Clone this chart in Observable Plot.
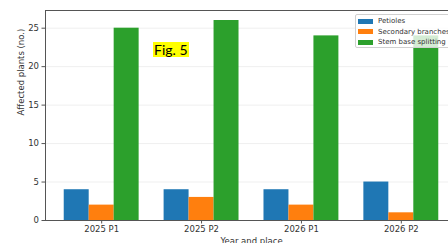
<!DOCTYPE html>
<html>
<head>
<meta charset="utf-8">
<script src="https://cdn.jsdelivr.net/npm/d3@7"></script>
<script src="https://cdn.jsdelivr.net/npm/@observablehq/plot@0.6"></script>
<style>
  html, body { margin: 0; padding: 0; background: #fff; overflow: hidden; }
  #wrap { position: relative; width: 448px; height: 243px; overflow: hidden; font-family: "DejaVu Sans", sans-serif; }
  #wrap svg { max-width: none !important; width: 457px; height: 243px; display: block; }
  #legend { position: absolute; left: 355px; top: 14px; width: 110px; height: 34px; background: rgba(255,255,255,0.8); border: 1px solid #d0d0d0; border-radius: 2px; box-sizing: border-box; padding: 1px 0 0 2px; }
  .row { display: flex; align-items: center; height: 10.6px; font-size: 7px; color: #333; white-space: nowrap; }
  .sw { width: 15px; height: 5px; margin-right: 5px; }
  #fig { position: absolute; left: 153px; top: 42px; background: #ffff00; font-family: Lato, "Open Sans", sans-serif; font-size: 14px; line-height: 15px; padding: 0 1px; color: #000; }
</style>
</head>
<body>
<div id="wrap"></div>
<script>
const groups = ["2025 P1", "2025 P2", "2026 P1", "2026 P2"];
const series = ["Petioles", "Secondary branches", "Stem base splitting"];
const petioles = [4, 4, 4, 5];
const secondary = [2, 3, 2, 1];
const stemBase = [25, 26, 24, 24];
const colors = ["#1f77b4", "#ff7f0e", "#2ca02c"];
const yTicks = [0, 5, 10, 15, 20, 25];
const yLabel = "Affected plants (no.)";
const xLabel = "Year and place";
const figLabel = "Fig. 5";

const valuesBySeries = [petioles, secondary, stemBase];
const data = [];
groups.forEach((g, gi) => {
  series.forEach((s, si) => {
    data.push({group: g, gi, series: s, si, value: valuesBySeries[si][gi]});
  });
});

const barW = 0.25;
const chart = Plot.plot({
  width: 457,
  height: 243,
  marginLeft: 45,
  marginRight: 0,
  marginTop: 10,
  marginBottom: 23,
  style: {fontFamily: "DejaVu Sans, sans-serif", fontSize: "8.5px", color: "#333", background: "#fff"},
  x: {domain: [-0.5625, 3.5625]},
  y: {domain: [0, 27.3]},
  color: {domain: series, range: colors},
  marks: [
    Plot.gridY(yTicks, {stroke: "#ebebeb", strokeOpacity: 1, strokeWidth: 0.8}),
    Plot.rectY(data, {
      x1: d => d.gi + (d.si - 1) * barW - barW / 2,
      x2: d => d.gi + (d.si - 1) * barW + barW / 2,
      y: "value",
      fill: "series"
    }),
    Plot.frame({stroke: "#555", strokeWidth: 1}),
    Plot.axisY(yTicks, {tickSize: 3.5, tickPadding: 3, stroke: "#555", label: null, fontSize: 8.5}),
    Plot.axisX(groups.map((_, i) => i), {tickSize: 3.5, tickPadding: 2, stroke: "#555", tickFormat: i => groups[i], label: null, fontSize: 8.5}),
    Plot.text([yLabel], {frameAnchor: "left", dx: -24, rotate: -90, fontSize: 8.5, fill: "#333"}),
    Plot.text([xLabel], {frameAnchor: "bottom", dy: 17, lineAnchor: "top", fontSize: 8.5, fill: "#333"})
  ]
});

const wrap = document.getElementById("wrap");
wrap.appendChild(chart);

const fig = document.createElement("div");
fig.id = "fig";
fig.textContent = figLabel;
wrap.appendChild(fig);

const legend = document.createElement("div");
legend.id = "legend";
series.forEach((s, i) => {
  const row = document.createElement("div");
  row.className = "row";
  const sw = document.createElement("span");
  sw.className = "sw";
  sw.style.background = colors[i];
  const t = document.createElement("span");
  t.textContent = s;
  row.appendChild(sw);
  row.appendChild(t);
  legend.appendChild(row);
});
wrap.appendChild(legend);
</script>
</body>
</html>
